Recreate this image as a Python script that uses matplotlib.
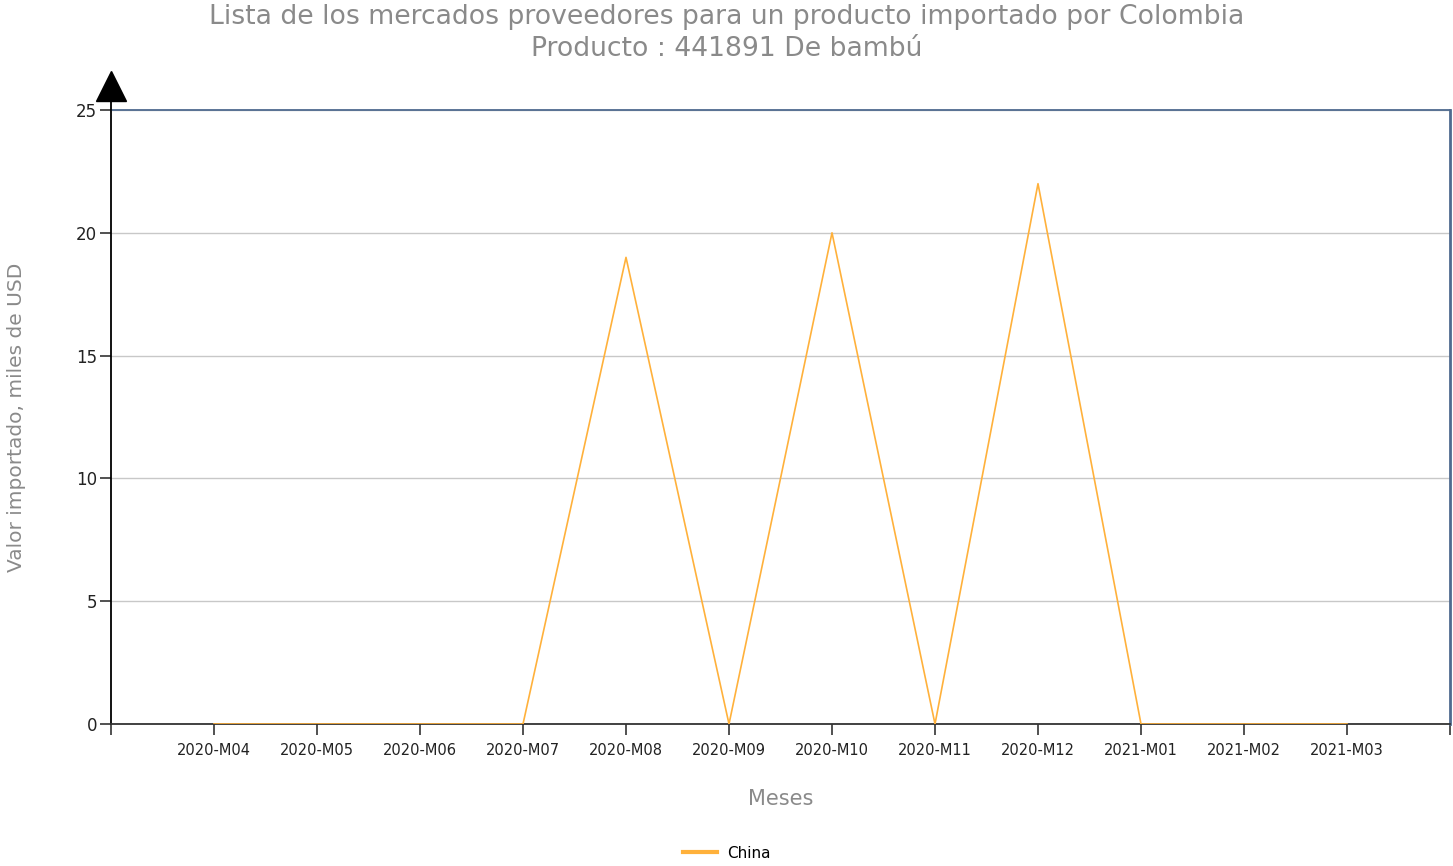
import numpy as np
import matplotlib
matplotlib.use('Agg')
import matplotlib.pyplot as plt
from matplotlib.lines import Line2D

# Datos del gráfico
meses = ['2020-M04', '2020-M05', '2020-M06', '2020-M07', '2020-M08', '2020-M09',
         '2020-M10', '2020-M11', '2020-M12', '2021-M01', '2021-M02', '2021-M03']
china = [0, 0, 0, 0, 19, 0, 20, 0, 22, 0, 0, 0]
y_ticks = [0, 5, 10, 15, 20, 25]

gris = '#8a8a8a'
naranja = '#ffb13b'
azul = '#4f6a8f'

fig = plt.figure(figsize=(14.53, 8.66), dpi=100)
ax = fig.add_axes([111 / 1453, 1 - 724 / 866, (1450 - 111) / 1453, (724 - 110) / 866])

x = np.arange(1, len(meses) + 1)
ax.plot(x, china, color=naranja, linewidth=1.2, zorder=3)

ax.set_xlim(0, len(meses) + 1)
ax.set_ylim(0, 25)
ax.set_xticks(np.arange(0, len(meses) + 2))
ax.set_xticklabels([''] + meses + [''], fontsize=10.5, color='#222222')
ax.set_yticks(y_ticks)
ax.set_yticklabels([str(v) for v in y_ticks], fontsize=12, color='#222222')
ax.tick_params(axis='x', direction='out', length=8, width=1.2, color='#333333', pad=6)
ax.tick_params(axis='y', direction='out', length=8, width=1.2, color='#333333', pad=2)

ax.grid(axis='y', color='#c8c8c8', linewidth=1)
ax.set_axisbelow(True)

# Bordes
ax.spines['left'].set_color('black')
ax.spines['left'].set_linewidth(1.3)
ax.spines['bottom'].set_color('#333333')
ax.spines['bottom'].set_linewidth(1.3)
ax.spines['top'].set_color(azul)
ax.spines['top'].set_linewidth(1.3)
ax.spines['right'].set_color(azul)
ax.spines['right'].set_linewidth(2)

# Flecha en el eje Y (por encima del borde superior)
ax.plot([0], [1.0 + 24 / 614], marker='^', markersize=22, color='black',
        transform=ax.get_xaxis_transform(), clip_on=False, zorder=5)
ax.plot([0, 0], [1.0, 1.0 + 20 / 614], color='black', linewidth=1.3,
        transform=ax.get_xaxis_transform(), clip_on=False, zorder=5)

fig.suptitle('Lista de los mercados proveedores para un producto importado por Colombia\nProducto : 441891 De bambú',
             y=1 - 4 / 866, va='top', fontsize=19.2, color=gris, linespacing=1.28)

ax.set_ylabel('Valor importado, miles de USD', fontsize=14.5, color=gris, labelpad=36)
ax.set_xlabel('Meses', fontsize=15, color=gris, labelpad=22)

# Leyenda
handles = [Line2D([0], [0], color=naranja, linewidth=3)]
fig.legend(handles, ['China'], loc='center', bbox_to_anchor=(727 / 1453, 1 - 853 / 866),
           frameon=False, fontsize=11, handlelength=2.2, handletextpad=0.7)

fig.savefig('out.png', dpi=100)
